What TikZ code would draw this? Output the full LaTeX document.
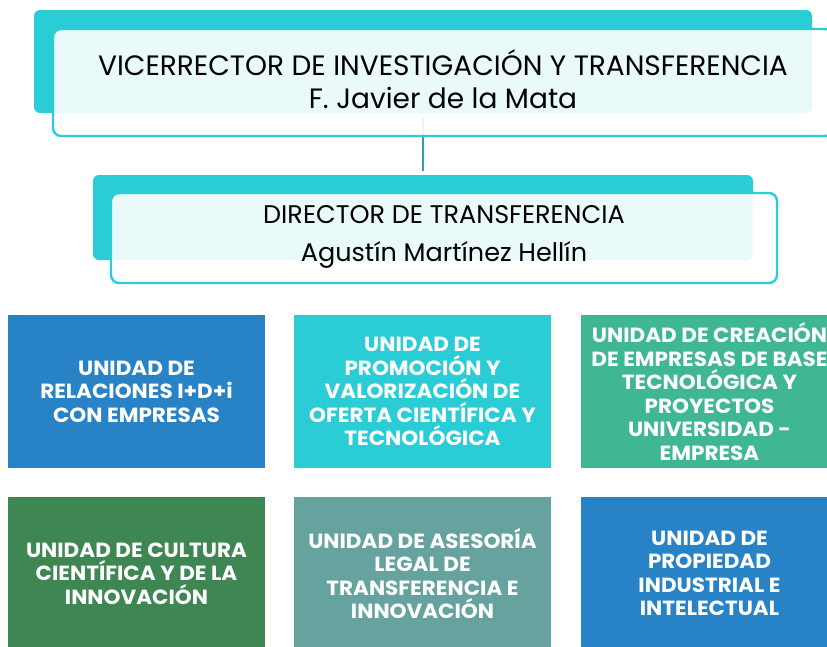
\documentclass[tikz,border=0pt]{standalone}
\usepackage{fontspec}
\newfontfamily\twr{Poppins}
\newfontfamily\twb[FakeStretch=1.05]{Poppins}
\definecolor{cyanA}{HTML}{2ACDD6}
\definecolor{connC}{HTML}{2AA3AD}
\definecolor{blueA}{HTML}{2883C6}
\definecolor{greenA}{HTML}{40B794}
\definecolor{greenB}{HTML}{3E8753}
\definecolor{grayT}{HTML}{66A39F}
\tikzset{
  backbox/.style={draw=none, fill=cyanA, rounded corners=6pt, inner sep=0pt},
  frontbox/.style={draw=cyanA, line width=2.4pt, fill=white, fill opacity=0.9, text opacity=1, rounded corners=8pt, inner sep=0pt, align=center, text=black},
  headtext/.style={inner sep=0pt, align=center, text=black},
  conn/.style={draw=connC, line width=2.2pt},
  unitbox/.style={draw=none, inner sep=0pt, minimum width=257pt, minimum height=153pt, align=center, text=white, font=\twb\bfseries\fontsize{20.5}{23.5}\selectfont}
}
\begin{document}
\begin{tikzpicture}[x=1pt,y=-1pt]
\useasboundingbox (0,0) rectangle (827,646);
\clip (0,0) rectangle (827,646);
% backs
\node[backbox, minimum width=778pt, minimum height=103pt] (vb) at (423,61.5) {};
\node[backbox, minimum width=660pt, minimum height=85pt] (db) at (423,217.5) {};
\draw[conn] ([yshift=-5pt]vb.south) -- ([yshift=4pt]db.north);
% fronts
\node[frontbox, minimum width=780pt, minimum height=107pt] (vf) at (443,82.5) {};
\node[headtext, font=\twr\fontsize{28}{33}\selectfont] (vt) at ([yshift=3.5pt]vf.center) {VICERRECTOR DE INVESTIGACIÓN Y TRANSFERENCIA\\F. Javier de la Mata};
\node[frontbox, minimum width=666pt, minimum height=90pt] (df) at (444,238) {};
\node[headtext, font=\twr\fontsize{25.5}{37.5}\selectfont] (dt) at ([yshift=1pt]df.center) {DIRECTOR DE TRANSFERENCIA\\Agustín Martínez Hellín};
% units
\node[unitbox, fill=blueA] (u1) at (136.5,391.5) {UNIDAD DE\\RELACIONES I+D+i\\CON EMPRESAS};
\node[unitbox, fill=cyanA] (u2) at (422.5,391.5) {UNIDAD DE\\PROMOCIÓN Y\\VALORIZACIÓN DE\\OFERTA CIENTÍFICA Y\\TECNOLÓGICA};
\node[unitbox, fill=greenA] (u3) at (709.5,391.5) {UNIDAD DE CREACIÓN\\DE EMPRESAS DE BASE\\TECNOLÓGICA Y\\PROYECTOS\\UNIVERSIDAD -\\EMPRESA};
\node[unitbox, fill=greenB] (u4) at (136.5,573.5) {UNIDAD DE CULTURA\\CIENTÍFICA Y DE LA\\INNOVACIÓN};
\node[unitbox, fill=grayT] (u5) at (422.5,573.5) {UNIDAD DE ASESORÍA\\LEGAL DE\\TRANSFERENCIA E\\INNOVACIÓN};
\node[unitbox, fill=blueA] (u6) at (709.5,573.5) {UNIDAD DE\\PROPIEDAD\\INDUSTRIAL E\\INTELECTUAL};
\end{tikzpicture}
\end{document}
